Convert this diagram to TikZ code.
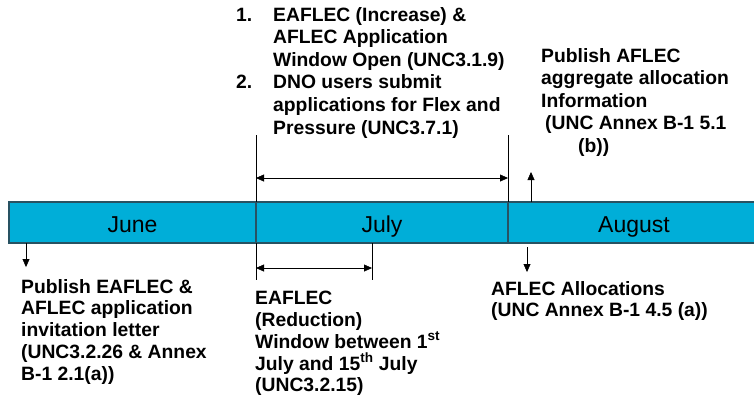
\documentclass[tikz,border=0pt]{standalone}
\usepackage{fontspec}
\setmainfont{Liberation Sans}
\usepackage{xcolor}
\usepackage{tikz}
\usetikzlibrary{positioning,arrows.meta}

\definecolor{barblue}{RGB}{0,174,216}
\definecolor{baredge}{RGB}{40,82,98}

\begin{document}
\begin{tikzpicture}[x=1pt, y=-1pt,
		month/.style={draw=baredge, line width=1.2pt, fill=barblue, minimum height=41pt, text height=21pt, text depth=2pt, inner sep=0pt, outer sep=0pt, font=\fontsize{23}{26}\selectfont},
		note/.style={anchor=north west, align=left, inner sep=0pt, font=\fontsize{19.3}{22.6}\selectfont\bfseries},
		lownote/.style={note, font=\fontsize{19.3}{21.8}\selectfont\bfseries},
		>={Triangle[length=8pt,width=7pt]}]
			\useasboundingbox (0,0) rectangle (754,408);
			\node[month, minimum width=247pt, anchor=north west] (june) at (9,202) {June};
			\node[month, minimum width=252pt, right=0pt of june] (july) {July};
			\node[month, minimum width=252pt, right=0pt of july] (august) {August};
			% application window above the bar
			\draw (july.north west) -- ++(0,-67);
			\draw (july.north east) -- ++(0,-67);
			\draw [<->] ([yshift=24pt]july.north west) -- ([yshift=24pt]july.north east);
			\node[note] (window) at (236,7)
			{
				\makebox[37pt][l]{1.}EAFLEC (Increase) \&\\
				\hspace*{37pt}AFLEC Application\\
				\hspace*{37pt}Window Open (UNC3.1.9)\\
				\makebox[37pt][l]{2.}DNO users submit\\
				\hspace*{37pt}applications for Flex and\\
				\hspace*{37pt}Pressure (UNC3.7.1)
			};
			\draw [->] ([xshift=23pt]august.north west) -- ++(0,-30);
			\node[note] (aggregate) at (541,48)
			{
				Publish AFLEC\\
				aggregate allocation\\
				Information\\
				\hspace*{4pt}(UNC Annex B-1 5.1\\
				\hspace*{37pt}(b))
			};
			% below the bar
			\draw [->] ([xshift=17pt]june.south west) -- ++(0,24);
			\node[lownote] (invitation) at (21,279)
			{
				Publish EAFLEC \&\\
				AFLEC application\\
				invitation letter\\
				(UNC3.2.26 \& Annex\\
				B-1 2.1(a))
			};
			\draw (july.south west) -- ++(0,37);
			\draw ([xshift=116pt]july.south west) -- ++(0,37);
			\draw [<->] ([yshift=-25pt]july.south west) -- ([xshift=116pt, yshift=-25pt]july.south west);
			\node[lownote] (reduction) at (255,291)
			{
				EAFLEC\\
				(Reduction)\\
				Window between 1\textsuperscript{st}\\
				July and 15\textsuperscript{th} July\\
				(UNC3.2.15)
			};
			\draw [->] ([xshift=19pt, yshift=-4pt]august.south west) -- ++(0,25);
			\node[lownote] (allocations) at (491,281)
			{
				AFLEC Allocations\\
				(UNC Annex B-1 4.5 (a))
			};
		\end{tikzpicture}
\end{document}
